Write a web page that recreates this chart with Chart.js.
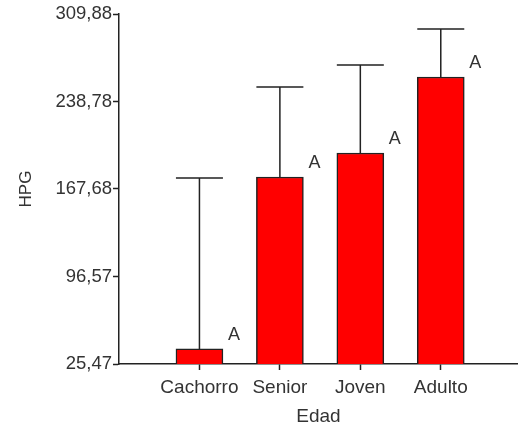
<!DOCTYPE html>
<html>
<head>
<meta charset="utf-8">
<script src="https://cdn.jsdelivr.net/npm/chart.js@4.4.1/dist/chart.umd.min.js"></script>
<style>
  html, body { margin: 0; padding: 0; background: #fff; }
  #wrap { width: 518px; height: 429px; }
</style>
</head>
<body>
<div id="wrap"><canvas id="hpgChart"></canvas></div>
<script>
// HPG por grupo de edad: media (barra) y límite superior (barra de error)
const categories = ['Cachorro', 'Senior', 'Joven', 'Adulto'];
const hpgMeans = [37.7, 177.4, 196.9, 258.7];
const hpgUpper = [176.6, 250.6, 268.4, 297.7];
const letters = ['A', 'A', 'A', 'A'];
const yTicks = [25.47, 96.57, 167.68, 238.78, 309.88];

const textColor = '#333';
const fontFamily = '"Liberation Sans", Arial, sans-serif';

// barras de error (solo hacia arriba) y letras de significancia
const errorBars = {
    id: 'errorBars',
    afterDatasetsDraw(chart) {
        const ctx = chart.ctx;
        const y = chart.scales.y;
        const meta = chart.getDatasetMeta(0);
        ctx.save();
        meta.data.forEach((bar, i) => {
            const half = bar.width / 2;
            const top = y.getPixelForValue(hpgUpper[i]);
            ctx.strokeStyle = '#222';
            ctx.lineWidth = 1.5;
            ctx.beginPath();
            ctx.moveTo(bar.x, bar.y);
            ctx.lineTo(bar.x, top);
            ctx.moveTo(bar.x - half, top);
            ctx.lineTo(bar.x + half, top);
            ctx.stroke();

            ctx.fillStyle = textColor;
            ctx.font = '18px ' + fontFamily;
            ctx.textAlign = 'left';
            ctx.textBaseline = 'middle';
            ctx.fillText(letters[i], bar.x + half + 5, bar.y - 14);
        });
        ctx.restore();
    }
};

new Chart(document.getElementById('hpgChart'), {
    type: 'bar',
    data: {
        datasets: [{
            data: hpgMeans.map((v, i) => ({ x: i + 1, y: v })),
            backgroundColor: '#ff0000',
            borderColor: '#222',
            borderWidth: 1.5,
            barThickness: 47
        }]
    },
    options: {
        responsive: true,
        maintainAspectRatio: false,
        animation: false,
        layout: { padding: { top: 14, right: 0, bottom: 0, left: 0 } },
        plugins: {
            legend: { display: false },
            tooltip: { enabled: false }
        },
        scales: {
            x: {
                type: 'linear',
                min: 0,
                max: 4.96,
                offset: false,
                afterBuildTicks: (scale) => {
                    scale.ticks = categories.map((c, i) => ({ value: i + 1 }));
                },
                afterFit: (scale) => { scale.height = 65; },
                ticks: {
                    color: textColor,
                    font: { family: fontFamily, size: 19 },
                    padding: 6,
                    maxRotation: 0,
                    callback: (value) => categories[value - 1]
                },
                grid: {
                    offset: false,
                    drawOnChartArea: false,
                    drawTicks: true,
                    tickLength: 6,
                    tickColor: '#222',
                    tickWidth: 1.5
                },
                border: { display: true, color: '#222', width: 1.5 },
                title: {
                    display: true,
                    text: 'Edad',
                    color: textColor,
                    font: { family: fontFamily, size: 19 },
                    padding: { top: 0, bottom: 1 }
                }
            },
            y: {
                min: yTicks[0],
                max: yTicks[yTicks.length - 1],
                afterBuildTicks: (scale) => {
                    scale.ticks = yTicks.map(v => ({ value: v }));
                },
                afterFit: (scale) => { scale.width = 119; },
                ticks: {
                    color: textColor,
                    font: { family: fontFamily, size: 18.5 },
                    padding: 1,
                    callback: (value) => value.toFixed(2).replace('.', ',')
                },
                grid: {
                    drawOnChartArea: false,
                    drawTicks: true,
                    tickLength: 6,
                    tickColor: '#222',
                    tickWidth: 1.5
                },
                border: { display: true, color: '#222', width: 1.5 },
                title: {
                    display: true,
                    text: 'HPG',
                    color: textColor,
                    font: { family: fontFamily, size: 17 },
                    padding: { top: 16, bottom: 0 }
                }
            }
        }
    },
    plugins: [errorBars]
});
</script>
</body>
</html>
